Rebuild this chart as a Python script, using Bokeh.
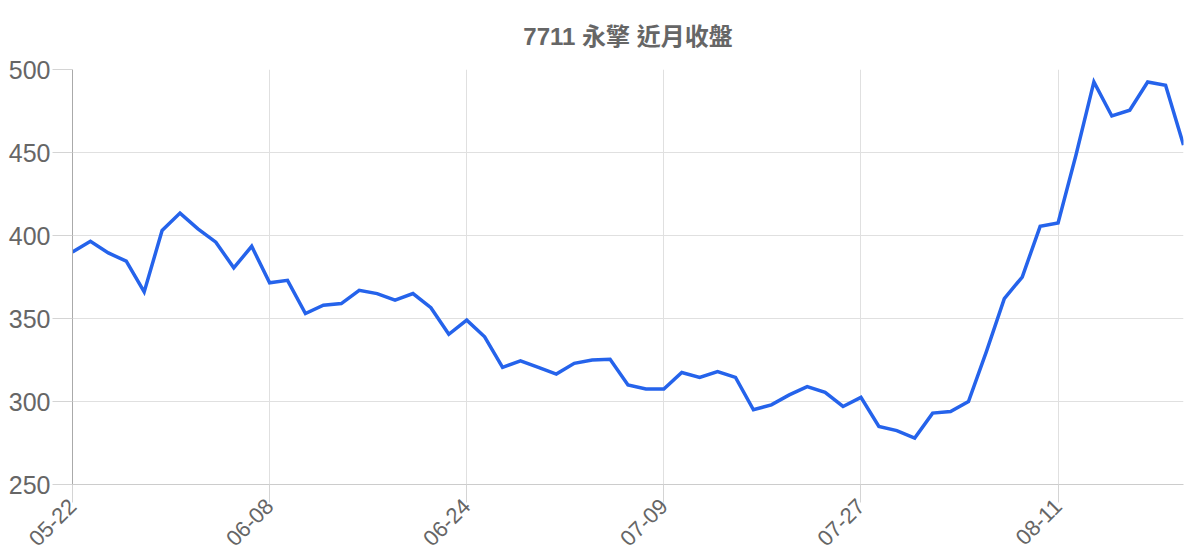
from bokeh.plotting import figure
from bokeh.models import FixedTicker, Range1d, ColumnDataSource
from bokeh.embed import file_html
from bokeh.resources import INLINE
import math

title_text = "7711 永擎 近月收盤"
dates = ["05-22", "05-25", "05-26", "05-27", "05-28", "05-29", "06-01", "06-02", "06-03", "06-04",
         "06-05", "06-08", "06-09", "06-10", "06-11", "06-12", "06-15", "06-16", "06-17", "06-18",
         "06-22", "06-23", "06-24", "06-25", "06-26", "06-29", "06-30", "07-01", "07-02", "07-03",
         "07-06", "07-07", "07-08", "07-09", "07-10", "07-13", "07-14", "07-15", "07-16", "07-17",
         "07-20", "07-21", "07-22", "07-23", "07-27", "07-28", "07-29", "07-30", "07-31", "08-03",
         "08-04", "08-05", "08-06", "08-07", "08-10", "08-11", "08-12", "08-13", "08-14", "08-17",
         "08-18", "08-19", "08-20"]
closes = [390, 396.5, 389.5, 384.5, 366, 403, 413.5, 404, 396, 380.5,
          393.5, 371.5, 373, 353, 358, 359, 367, 365, 361, 365,
          356.5, 340.5, 349, 339, 320.5, 324.5, 320.5, 316.5, 323, 325,
          325.5, 310, 307.5, 307.5, 317.5, 314.5, 318, 314.5, 295, 298,
          304, 309, 305.5, 297, 302.5, 285, 282.5, 278, 293, 294,
          300, 330, 362, 375, 405.5, 407.5, 448.5, 492.5, 472, 475.5,
          492.5, 490.5, 454.5]
y_ticks = [250, 300, 350, 400, 450, 500]
label_step = 11

xs = list(range(len(dates)))
src = ColumnDataSource(dict(x=xs, close=closes, date=dates))

FONT = "'Liberation Sans', Arial, 'Noto Sans CJK TC', sans-serif"
GRID = "#e0e0e0"
TICK = "#d4d4d4"
TXT = "#666666"

p = figure(frame_width=1111, frame_height=415, output_backend="svg", toolbar_location=None,
           x_range=Range1d(0, len(dates) - 1), y_range=Range1d(y_ticks[0], y_ticks[-1]),
           min_border_left=72, min_border_right=9, min_border_top=69, min_border_bottom=40)
p.outline_line_color = None
p.background_fill_color = "white"
p.border_fill_color = "white"

p.title.text = title_text
p.title.align = "center"
p.title.text_font = FONT
p.title.text_font_size = "24px"
p.title.text_font_style = "bold"
p.title.text_color = TXT
p.title.offset = 0
p.title.standoff = 40

p.line("x", "close", source=src, line_color="#2563EB", line_width=3.5, line_join="miter")

xa = p.xaxis[0]
xa.ticker = FixedTicker(ticks=xs[::label_step], minor_ticks=[])
xa.major_label_overrides = {i: dates[i] for i in xs[::label_step]}
xa.major_label_orientation = math.pi / 4
xa.major_label_text_font = FONT
xa.major_label_text_font_size = "22px"
xa.major_label_text_color = TXT
xa.major_label_standoff = 0
xa.major_tick_out = 18
xa.major_tick_in = 0
xa.major_tick_line_color = TICK
xa.axis_line_color = "#cccccc"

ya = p.yaxis[0]
ya.ticker = FixedTicker(ticks=y_ticks, minor_ticks=[])
ya.major_label_text_font = FONT
ya.major_label_text_font_size = "25px"
ya.major_label_text_color = TXT
ya.major_label_standoff = 2
ya.major_tick_out = 20
ya.major_tick_in = 0
ya.major_tick_line_color = TICK
ya.axis_line_color = "#aaaaaa"

p.xgrid.ticker = FixedTicker(ticks=xs[::label_step])
p.xgrid.grid_line_color = GRID
p.ygrid.ticker = FixedTicker(ticks=y_ticks)
p.ygrid.grid_line_color = GRID

open("out.html", "w").write(file_html(p, INLINE))
